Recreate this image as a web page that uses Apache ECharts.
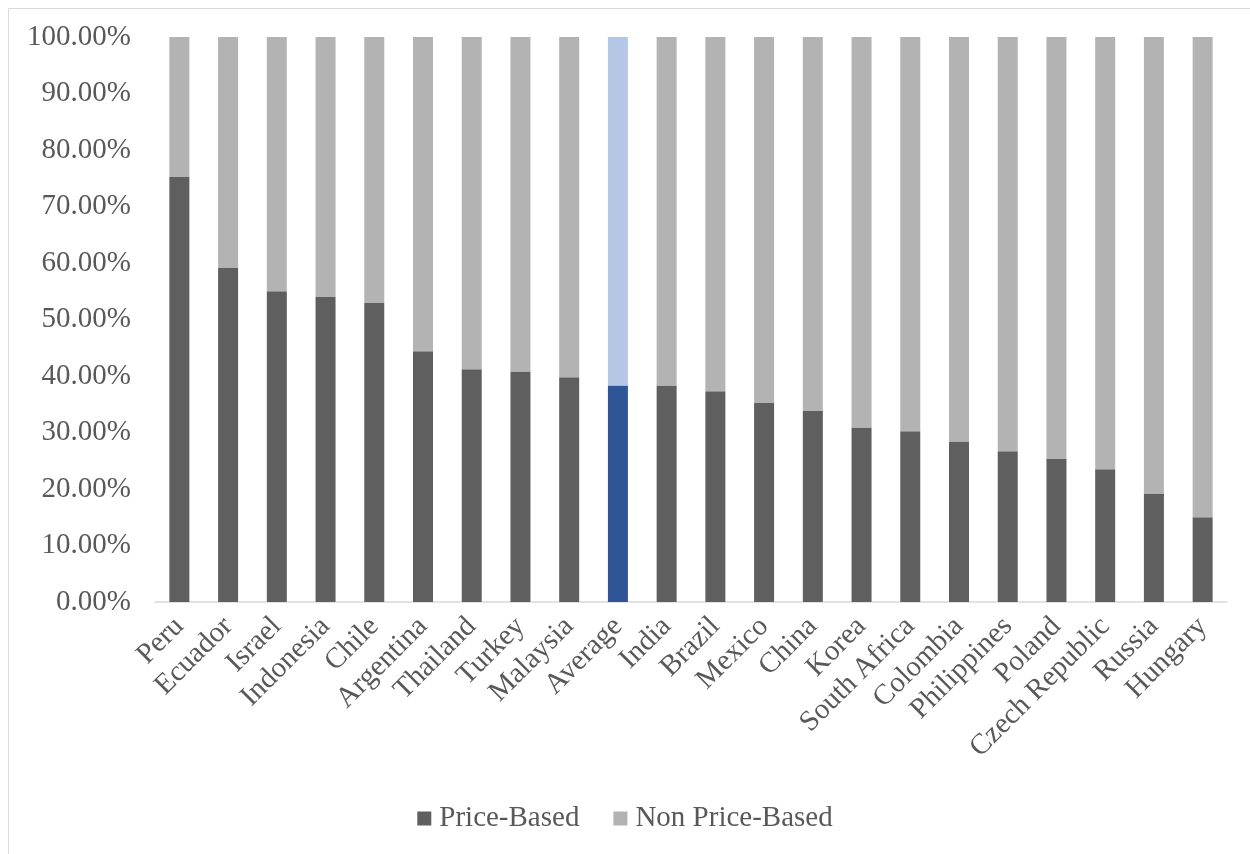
<!DOCTYPE html>
<html>
<head>
<meta charset="utf-8">
<script src="https://cdn.jsdelivr.net/npm/echarts@6/dist/echarts.min.js"></script>
<style>
  html, body { margin: 0; padding: 0; background: #fff; }
  #chart { width: 1250px; height: 854px; }
</style>
</head>
<body>
<div id="chart"></div>
<script>
var countries = ['Peru', 'Ecuador', 'Israel', 'Indonesia', 'Chile', 'Argentina', 'Thailand',
    'Turkey', 'Malaysia', 'Average', 'India', 'Brazil', 'Mexico', 'China', 'Korea',
    'South Africa', 'Colombia', 'Philippines', 'Poland', 'Czech Republic', 'Russia', 'Hungary'];

// share of price-based instruments, in percent
var priceBased = [75.2, 59.2, 55.0, 54.0, 52.9, 44.4, 41.2, 40.8, 39.8, 38.3, 38.3,
    37.3, 35.2, 33.8, 30.9, 30.2, 28.4, 26.7, 25.3, 23.5, 19.2, 15.0];

var avgName = 'Average';

var nonPriceBased = priceBased.map(function(v) {
    return +(100 - v).toFixed(1);
});

function barData(values, highlight) {
    return values.map(function(v, i) {
        var item = { value: v };
        if (countries[i] == avgName) {
            item.itemStyle = { color: highlight };
        }
        return item;
    });
}

var font = '"Liberation Serif", "Times New Roman", serif';
var textColor = '#595959';

var myChart = echarts.init(document.getElementById('chart'));

var option = {
    animation: false,
    textStyle: { fontFamily: font },
    graphic: [{
        type: 'rect',
        shape: { x: 8.5, y: 8.5, width: 1260, height: 870 },
        style: { fill: 'none', stroke: '#d9d9d9', lineWidth: 1 },
        silent: true
    }],
    grid: {
        left: 155,
        right: 23,
        top: 37,
        bottom: 252
    },
    legend: {
        top: 799,
        left: 'center',
        itemWidth: 14,
        itemHeight: 14,
        itemGap: 34,
        icon: 'rect',
        textStyle: {
            fontFamily: font,
            fontSize: 29,
            color: textColor,
            padding: [0, 0, 0, 3]
        },
        data: ['Price-Based', 'Non Price-Based']
    },
    xAxis: {
        type: 'category',
        data: countries,
        axisLine: { lineStyle: { color: '#d9d9d9', width: 1.5 } },
        axisTick: { show: false },
        axisLabel: {
            interval: 0,
            rotate: 45,
            margin: 20,
            fontFamily: font,
            fontSize: 29,
            color: textColor
        }
    },
    yAxis: {
        type: 'value',
        min: 0,
        max: 100,
        interval: 10,
        splitLine: { show: false },
        axisLine: { show: false },
        axisTick: { show: false },
        axisLabel: {
            margin: 24,
            fontFamily: font,
            fontSize: 29,
            color: textColor,
            formatter: function(v) { return v.toFixed(2) + '%'; }
        }
    },
    series: [
        {
            name: 'Price-Based',
            type: 'bar',
            stack: 'total',
            barWidth: 20,
            itemStyle: { color: '#5f5f5f' },
            data: barData(priceBased, '#2f5597')
        },
        {
            name: 'Non Price-Based',
            type: 'bar',
            stack: 'total',
            barWidth: 20,
            itemStyle: { color: '#b3b3b3' },
            data: barData(nonPriceBased, '#b4c7e7')
        }
    ]
};

myChart.setOption(option);
</script>
</body>
</html>
